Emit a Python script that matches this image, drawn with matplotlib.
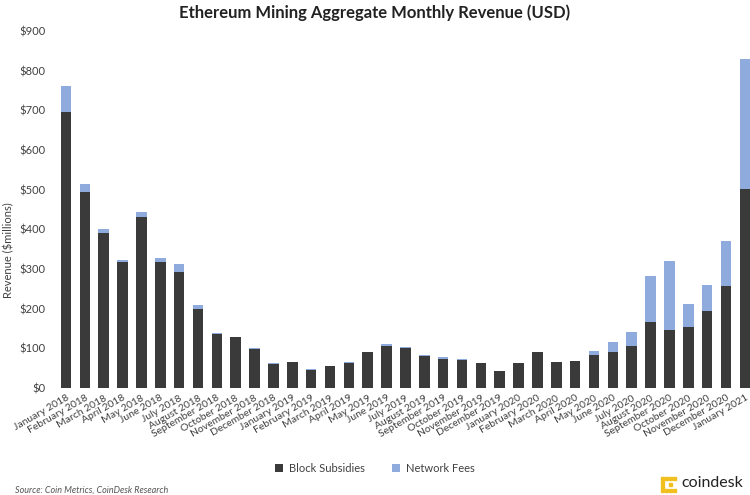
import matplotlib
matplotlib.use("Agg")
import matplotlib.pyplot as plt
from matplotlib.patches import Rectangle
import numpy as np

plt.rcParams['font.family'] = ['Lato', 'DejaVu Sans']

months = ["January 2018", "February 2018", "March 2018", "April 2018", "May 2018", "June 2018",
          "July 2018", "August 2018", "September 2018", "October 2018", "November 2018",
          "December 2018", "January 2019", "February 2019", "March 2019", "April 2019",
          "May 2019", "June 2019", "July 2019", "August 2019", "September 2019",
          "October 2019", "November 2019", "December 2019", "January 2020", "February 2020",
          "March 2020", "April 2020", "May 2020", "June 2020", "July 2020", "August 2020",
          "September 2020", "October 2020", "November 2020", "December 2020", "January 2021"]

block_subsidies = [696, 494, 392, 317, 430, 317, 292, 200, 137, 128, 98, 61, 65, 46, 55, 64,
                   90, 107, 101, 81, 74, 71, 63, 43, 62, 91, 65, 67, 83, 92, 106, 166,
                   146, 155, 195, 258, 502]
network_fees = [65, 20, 10, 6, 14, 10, 20, 8, 1, 1, 2, 1, 1, 1, 1, 1,
                2, 5, 2, 1, 3, 1, 1, 1, 1, 1, 1, 1, 11, 23, 34, 116,
                173, 57, 64, 112, 327]

yticks = [0, 100, 200, 300, 400, 500, 600, 700, 800, 900]

dark = '#3a3a3a'
blue = '#8faadc'
txt = '#404040'

fig = plt.figure(figsize=(7.5, 4.95), dpi=100)
ax = fig.add_axes([50/750, 1-388/495, 700/750, (388-31)/495])

x = np.arange(len(months))
ax.bar(x, block_subsidies, width=0.56, color=dark, label='Block Subsidies', zorder=2)
ax.bar(x, network_fees, width=0.56, bottom=block_subsidies, color=blue,
       label='Network Fees', zorder=2)

ax.set_xlim(-0.85, 36.27)
ax.set_ylim(0, 900)
ax.set_yticks(yticks)
ax.set_yticklabels([f"${v}" for v in yticks], fontsize=8, color=txt)
ax.set_xticks(x)
ax.set_xticklabels(months, rotation=30, ha='right', rotation_mode='anchor',
                   fontsize=7.5, color=txt)
ax.tick_params(axis='both', length=0, pad=3)
ax.tick_params(axis='x', pad=4)
for s in ax.spines.values():
    s.set_visible(False)

fig.text(9/750, 1-250/495, "Revenue ($millions)", fontsize=8, color=txt,
         rotation=90, ha='center', va='center')

fig.text(0.5, 1-13/495, "Ethereum Mining Aggregate Monthly Revenue (USD)",
         ha='center', va='center', fontsize=12, fontweight='bold', color='#222222')

handles, labels = ax.get_legend_handles_labels()
fig.legend(handles=handles, labels=labels,
           loc='center', bbox_to_anchor=(0.5, 1-468/495), ncol=2, frameon=False,
           fontsize=8, handlelength=0.7, handleheight=0.7, columnspacing=2.5,
           handletextpad=0.5, labelcolor=txt)

fig.text(15/750, 1-490/495, "Source: Coin Metrics, CoinDesk Research", fontsize=6.5,
         style='italic', color='#555555', ha='left', va='center')

# coindesk logo
yellow = '#f2c01e'
cells = [(661, 477), (665, 477), (669, 477), (673, 477),
         (661, 481), (661, 485), (661, 489),
         (665, 489), (669, 489), (673, 489), (669, 483)]
for (px, py) in cells:
    fig.patches.append(Rectangle((px/750, 1-(py+3)/495), 3.2/750, 3.2/495,
                                 transform=fig.transFigure, color=yellow))
fig.text(681/750, 1-483/495, "coindesk", fontsize=11.5, color='#222222', ha='left',
         va='center')

fig.savefig("out.png", dpi=100, facecolor='white')
